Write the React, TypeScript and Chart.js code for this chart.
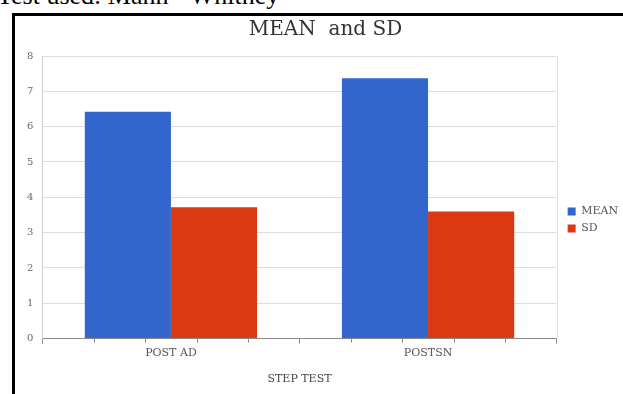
import React, { useEffect, useRef } from "react";
import { Chart, registerables } from "chart.js";

Chart.register(...registerables);

const categories = ["POST AD", "POSTSN"];
const meanValues = [6.42, 7.37];
const sdValues = [3.72, 3.6];
const yTickValues = [0, 1, 2, 3, 4, 5, 6, 7, 8];

const SERIF = "'DejaVu Serif', 'Liberation Serif', serif";

// Nudge the legend block right and down, and the title a touch right.
const blockOffset = {
  id: "blockOffset",
  afterLayout(chart: any) {
    const lg = chart.legend;
    if (lg) {
      lg.left += 5;
      lg.right += 5;
      lg.top += 18;
      lg.bottom += 18;
    }
    const tb = chart.titleBlock;
    if (tb) {
      tb.left += 5;
      tb.right += 5;
    }
  },
};

// Small sub-ticks under the category axis plus a thin frame line on the right edge.
const axisDecor = {
  id: "axisDecor",
  afterDraw(chart: any) {
    const { ctx, chartArea, scales } = chart;
    const x = scales.x;
    const n = categories.length;
    const band = (chartArea.right - chartArea.left) / n;
    ctx.save();
    ctx.strokeStyle = "#8a8a8a";
    ctx.lineWidth = 1;
    for (let i = 0; i < n; i++) {
      const start = x.getPixelForValue(i) - band / 2;
      for (let k = 1; k < 5; k++) {
        const px = Math.round(start + (band * k) / 5) + 0.5;
        ctx.beginPath();
        ctx.moveTo(px, chartArea.bottom);
        ctx.lineTo(px, chartArea.bottom + 4);
        ctx.stroke();
      }
    }
    ctx.strokeStyle = "#e2e2e2";
    ctx.beginPath();
    ctx.moveTo(Math.round(chartArea.right) + 0.5, chartArea.top);
    ctx.lineTo(Math.round(chartArea.right) + 0.5, chartArea.bottom);
    ctx.stroke();
    ctx.restore();
  },
};

export default function App() {
  const canvasRef = useRef<HTMLCanvasElement | null>(null);

  useEffect(() => {
    document.body.style.margin = "0";
    const canvas = canvasRef.current;
    if (!canvas) return;
    const chart = new Chart(canvas, {
      type: "bar",
      data: {
        labels: categories,
        datasets: [
          {
            label: "MEAN",
            data: meanValues,
            backgroundColor: "#3366cc",
            borderWidth: 0,
            categoryPercentage: 0.67,
            barPercentage: 1.0,
          },
          {
            label: "SD",
            data: sdValues,
            backgroundColor: "#dc3912",
            borderWidth: 0,
            categoryPercentage: 0.67,
            barPercentage: 1.0,
          },
        ],
      },
      options: {
        responsive: false,
        animation: false,
        devicePixelRatio: 1,
        layout: { padding: { left: 18, top: 18, right: 0, bottom: 8 } },
        plugins: {
          title: {
            display: true,
            text: "MEAN  and SD",
            color: "#333333",
            font: { family: SERIF, size: 20, weight: "normal" },
            padding: { top: 0, bottom: 14 },
          },
          legend: {
            position: "right",
            align: "center",
            labels: {
              boxWidth: 8,
              boxHeight: 8,
              padding: 6,
              color: "#555555",
              font: { family: SERIF, size: 11 },
            },
          },
          tooltip: { enabled: false },
        },
        scales: {
          x: {
            grid: {
              display: true,
              drawOnChartArea: false,
              drawTicks: true,
              tickLength: 5,
              color: "#8a8a8a",
            },
            border: { display: true, color: "#8a8a8a" },
            ticks: {
              color: "#555555",
              font: { family: SERIF, size: 11 },
              padding: 3,
            },
            title: {
              display: true,
              text: "STEP TEST",
              color: "#444444",
              font: { family: SERIF, size: 11 },
              padding: { top: 10, bottom: 0 },
            },
          },
          y: {
            min: 0,
            max: 8,
            afterBuildTicks(scale: any) {
              scale.ticks = yTickValues.map((v) => ({ value: v }));
            },
            grid: { color: "#dddddd", drawTicks: false },
            border: { display: true, color: "#cfcfcf" },
            ticks: {
              color: "#666666",
              font: { family: SERIF, size: 10 },
              padding: 9,
            },
          },
        },
      },
      plugins: [blockOffset, axisDecor],
    });
    return () => chart.destroy();
  }, []);

  return (
    <div style={{ position: "relative", width: 623, height: 394, overflow: "hidden", background: "#fff" }}>
      <div
        style={{
          position: "absolute",
          left: -3,
          top: -17,
          fontFamily: "'Liberation Serif', serif",
          fontSize: 26,
          lineHeight: "26px",
          color: "#000",
          whiteSpace: "nowrap",
        }}
      >
        Test used: Mann - Whitney
      </div>
      <div
        style={{
          position: "absolute",
          left: 12,
          top: 13,
          width: 700,
          height: 500,
          borderLeft: "3px solid #000",
          borderTop: "3px solid #000",
          boxSizing: "border-box",
        }}
      />
      <canvas
        ref={canvasRef}
        width={623}
        height={394}
        style={{ position: "absolute", left: 0, top: 0, width: 623, height: 394 }}
      />
    </div>
  );
}
